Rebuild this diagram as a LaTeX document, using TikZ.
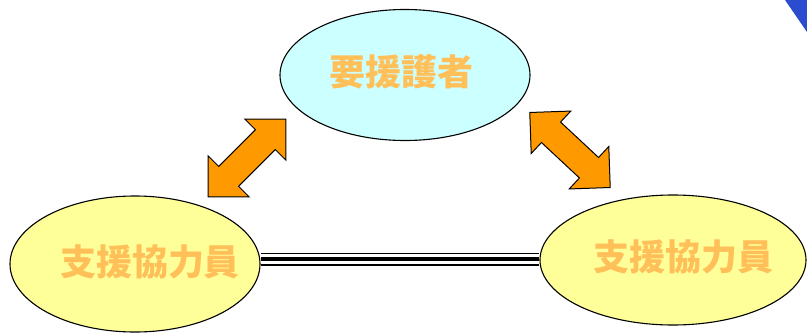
\documentclass[tikz,border=0pt]{standalone}
\usepackage{fontspec}
\newfontfamily\jp{Noto Sans CJK JP}[BoldFont={Noto Sans CJK JP Black}]
\usetikzlibrary{shapes.geometric,shapes.arrows,backgrounds}
\definecolor{cyanfill}{HTML}{CCFFFF}
\definecolor{yellowfill}{HTML}{FFFF99}
\definecolor{arroworange}{HTML}{FF9900}
\definecolor{textorange}{HTML}{FFC05A}
\definecolor{cornerblue}{HTML}{2B4CCF}
\tikzset{
  oval/.style={ellipse, draw=black, line width=1.1pt, inner sep=0pt},
  label text/.style={font=\jp\bfseries\fontsize{36}{40}\selectfont, text=textorange, inner sep=0pt},
  dblarrow/.style={double arrow, draw=black, line width=1pt, fill=arroworange,
    inner xsep=0pt, inner ysep=13.5pt, minimum height=110pt, double arrow head extend=15pt},
}
\begin{document}
\begin{tikzpicture}[x=1pt,y=-1pt]
\useasboundingbox (0,0) rectangle (807,335);
\fill[cornerblue] (785,0) -- (807,0) -- (807,32) -- cycle;
\node[oval, fill=cyanfill, minimum width=250pt, minimum height=131pt] (T) at (405,75) {};
\node[oval, fill=yellowfill, minimum width=250pt, minimum height=136pt] (L) at (135,264) {};
\node[oval, fill=yellowfill, minimum width=266pt, minimum height=130pt] (R) at (673,260) {};
\node[label text] (Tt) at (401,72) {要援護者};
\node[label text] (Lt) at (150,262) {支援協力員};
\node[label text] (Rt) at (683,257) {支援協力員};
\node[dblarrow, rotate=45] (A1) at (247,158) {};
\node[dblarrow, rotate=-43] (A2) at (570,150) {};
\begin{scope}[on background layer]
\draw[line width=1.2pt] (L.east |- 0,253.5) -- (R.west |- 0,253.5);
\draw[line width=4.5pt] (L.east |- 0,259.2) -- (R.west |- 0,259.2);
\draw[line width=1.2pt] (L.east |- 0,265) -- (R.west |- 0,265);
\end{scope}
\end{tikzpicture}
\end{document}
